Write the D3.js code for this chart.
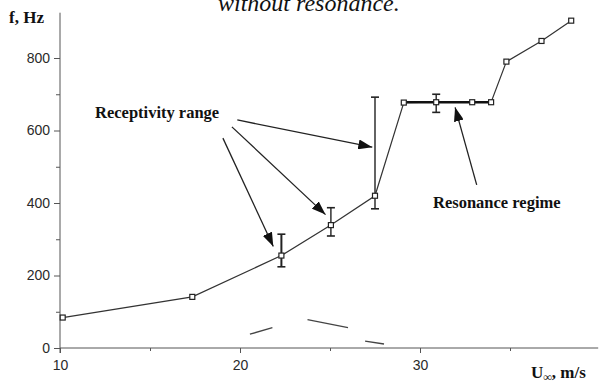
<!DOCTYPE html>
<html>
<head>
<meta charset="utf-8">
<script src="https://cdn.jsdelivr.net/npm/d3@7"></script>
<style>
  body { margin: 0; background: #fff; }
  svg { display: block; }
</style>
</head>
<body>
<div id="chart"></div>
<script>
// data
var speeds = [10.15, 17.35, 22.3, 25.05, 27.5, 29.1, 30.9, 32.9, 33.95, 34.8, 36.75, 38.4];
var freqs  = [84, 141, 255, 339, 420, 677, 678, 678, 678, 790, 847, 903];
// error bars: speed, low, high
var errSpeed = [22.3, 25.05, 27.5, 30.9];
var errLow   = [224, 309, 384, 650];
var errHigh  = [314, 387, 692, 700];
// resonance plateau
var plateau = [29.1, 33.95];
var plateauF = 678;
// stray scan marks near the bottom (speed0, f0, speed1, f1)
var strays = [[20.55, 38, 21.8, 56], [23.75, 78, 26.0, 56], [26.95, 19, 28.0, 11]];
var yTicks = [0, 200, 400, 600, 800];
var yMinor = [100, 300, 500, 700];
var xTicks = [10, 20, 30];
var xMinor = [15, 25, 35];
// annotation arrows: from (speed, f) to tip (speed, f)
var arrows = [
  [19.05, 579, 21.85, 280],
  [19.55, 610, 24.75, 368],
  [19.85, 629, 27.35, 554],
  [33.15, 450, 31.95, 664]
];

var W = 609, H = 381;
var svg = d3.select('#chart').append('svg')
    .attr('width', W)
    .attr('height', H);

var x = d3.scaleLinear().domain([10, 40]).range([60, 600]);
var y = d3.scaleLinear().domain([0, 800]).range([348, 58]);
var ink = '#333';

// title, cut off at the top
svg.append('text')
    .attr('x', 218).attr('y', 11)
    .attr('font-family', 'Liberation Serif, serif')
    .attr('font-style', 'italic')
    .attr('font-size', 24)
    .attr('fill', '#111')
    .text('without resonance.');

// axes
svg.append('line')
    .attr('x1', x(10)).attr('x2', x(10))
    .attr('y1', y(0) + 5).attr('y2', y(925))
    .attr('stroke', '#555');
svg.append('line')
    .attr('x1', x(10)).attr('x2', x(39.9))
    .attr('y1', y(0)).attr('y2', y(0))
    .attr('stroke', '#555');

var yAxis = svg.append('g')
    .attr('transform', 'translate(' + x(10) + ',0)')
    .call(d3.axisLeft(y).tickValues(yTicks).tickSize(6).tickPadding(4).tickFormat(d3.format('d')));
var yAxisMinor = svg.append('g')
    .attr('transform', 'translate(' + x(10) + ',0)')
    .call(d3.axisLeft(y).tickValues(yMinor).tickSize(4).tickFormat(''));
var xAxis = svg.append('g')
    .attr('transform', 'translate(0,' + y(0) + ')')
    .call(d3.axisBottom(x).tickValues(xTicks).tickSize(5).tickPadding(7).tickFormat(d3.format('d')));
var xAxisMinor = svg.append('g')
    .attr('transform', 'translate(0,' + y(0) + ')')
    .call(d3.axisBottom(x).tickValues(xMinor).tickSize(3).tickFormat(''));

[yAxis, yAxisMinor, xAxis, xAxisMinor].forEach(function (g) {
    g.select('.domain').remove();
    g.selectAll('line').attr('stroke', '#555');
    g.selectAll('text')
        .attr('font-family', 'Liberation Sans, Arial, sans-serif')
        .attr('font-size', 14)
        .attr('fill', '#2a2a2a');
});

// axis titles
svg.append('text')
    .attr('x', 9).attr('y', 23)
    .attr('font-family', 'Liberation Serif, serif')
    .attr('font-weight', 'bold')
    .attr('font-size', 17)
    .attr('fill', '#111')
    .text('f, Hz');

var xt = svg.append('text')
    .attr('x', 531).attr('y', 378)
    .attr('font-family', 'Liberation Serif, serif')
    .attr('font-weight', 'bold')
    .attr('font-size', 17)
    .attr('fill', '#111');
xt.append('tspan').text('U');
xt.append('tspan').attr('dy', 3).attr('font-size', 12).text('\u221e');
xt.append('tspan').attr('dy', -3).text(', m/s');

// stray marks
svg.selectAll('line.stray')
    .data(strays)
    .enter().append('line')
    .attr('class', 'stray')
    .attr('x1', function (d) { return x(d[0]); })
    .attr('y1', function (d) { return y(d[1]); })
    .attr('x2', function (d) { return x(d[2]); })
    .attr('y2', function (d) { return y(d[3]); })
    .attr('stroke', '#444')
    .attr('stroke-width', 1.3);

// main line
var pts = speeds.map(function (s, i) { return [s, freqs[i]]; });
svg.append('path')
    .datum(pts)
    .attr('fill', 'none')
    .attr('stroke', ink)
    .attr('stroke-width', 1.2)
    .attr('d', d3.line()
        .x(function (d) { return x(d[0]); })
        .y(function (d) { return y(d[1]); }));

// resonance plateau, thicker
svg.append('line')
    .attr('x1', x(plateau[0])).attr('x2', x(plateau[1]))
    .attr('y1', y(plateauF)).attr('y2', y(plateauF))
    .attr('stroke', '#111')
    .attr('stroke-width', 2.6);

// error bars
var eb = svg.selectAll('g.err')
    .data(errSpeed)
    .enter().append('g')
    .attr('class', 'err');
eb.append('line')
    .attr('x1', function (d) { return x(d); })
    .attr('x2', function (d) { return x(d); })
    .attr('y1', function (d, i) { return y(errLow[i]); })
    .attr('y2', function (d, i) { return y(errHigh[i]); })
    .attr('stroke', '#222')
    .attr('stroke-width', function (d, i) { return i === 0 ? 2 : 1.4; });
[errLow, errHigh].forEach(function (arr) {
    eb.append('line')
        .attr('x1', function (d) { return x(d) - 4; })
        .attr('x2', function (d) { return x(d) + 4; })
        .attr('y1', function (d, i) { return y(arr[i]); })
        .attr('y2', function (d, i) { return y(arr[i]); })
        .attr('stroke', '#222')
        .attr('stroke-width', 1.6);
});

// square markers
svg.selectAll('rect.pt')
    .data(pts)
    .enter().append('rect')
    .attr('class', 'pt')
    .attr('x', function (d) { return x(d[0]) - 2.5; })
    .attr('y', function (d) { return y(d[1]) - 2.5; })
    .attr('width', 5)
    .attr('height', 5)
    .attr('fill', '#fff')
    .attr('stroke', '#222')
    .attr('stroke-width', 1.2);

// arrows
svg.append('defs').append('marker')
    .attr('id', 'head')
    .attr('viewBox', '0 0 14 10')
    .attr('refX', 14).attr('refY', 5)
    .attr('markerWidth', 14).attr('markerHeight', 10)
    .attr('markerUnits', 'userSpaceOnUse')
    .attr('orient', 'auto')
    .append('path')
    .attr('d', 'M0,0 L14,5 L0,10 Z')
    .attr('fill', '#111');

svg.selectAll('line.arrow')
    .data(arrows)
    .enter().append('line')
    .attr('class', 'arrow')
    .attr('x1', function (d) { return x(d[0]); })
    .attr('y1', function (d) { return y(d[1]); })
    .attr('x2', function (d) { return x(d[2]); })
    .attr('y2', function (d) { return y(d[3]); })
    .attr('stroke', '#222')
    .attr('stroke-width', 1.3)
    .attr('marker-end', 'url(#head)');

// annotation labels
svg.append('text')
    .attr('x', 95).attr('y', 118)
    .attr('font-family', 'Liberation Serif, serif')
    .attr('font-weight', 'bold')
    .attr('font-size', 16.5)
    .attr('fill', '#111')
    .text('Receptivity range');

svg.append('text')
    .attr('x', 433).attr('y', 208)
    .attr('font-family', 'Liberation Serif, serif')
    .attr('font-weight', 'bold')
    .attr('font-size', 16.5)
    .attr('fill', '#111')
    .text('Resonance regime');
</script>
</body>
</html>
